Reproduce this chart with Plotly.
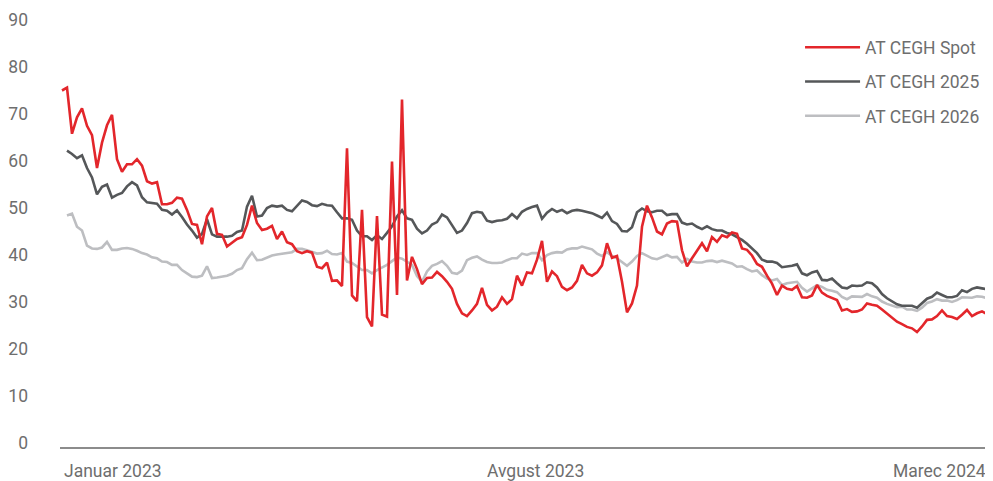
import pandas as pd
import plotly.graph_objects as go

series_names = ["AT CEGH Spot", "AT CEGH 2025", "AT CEGH 2026"]
x_labels = ["Januar 2023", "Avgust 2023", "Marec 2024"]
x_label_dates = ["2023-01-02", "2023-08-11", "2024-03-09"]
first_date, last_date = "2023-01-02", "2024-03-11"
y_ticks = [0, 10, 20, 30, 40, 50, 60, 70, 80, 90]

spot = [
    75.0, 75.6, 65.8, 69.3, 71.2, 67.5, 65.5, 58.5, 63.9, 67.6,
    69.8, 60.4, 57.7, 59.3, 59.3, 60.4, 59.0, 55.7, 55.2, 55.5,
    50.8, 50.8, 51.1, 52.2, 52.0, 49.6, 46.6, 46.4, 42.3, 48.2,
    50.0, 44.5, 44.3, 41.8, 42.6, 43.4, 43.8, 46.4, 50.5, 46.8,
    45.3, 45.6, 46.2, 43.4, 45.0, 42.7, 42.3, 40.8, 40.4, 40.8,
    40.5, 37.5, 37.2, 38.4, 34.5, 34.6, 33.4, 62.7, 31.4, 30.2,
    49.6, 26.8, 24.8, 48.3, 27.3, 26.9, 59.9, 31.5, 73.1, 34.6,
    39.6, 37.0, 33.8, 35.1, 35.2, 36.4, 35.5, 34.3, 32.8, 29.6,
    27.6, 27.0, 28.2, 29.6, 33.0, 29.4, 28.2, 29.0, 31.0, 29.6,
    30.6, 35.6, 33.5, 36.3, 36.1, 39.0, 43.0, 34.3, 36.5, 35.5,
    33.2, 32.5, 33.1, 34.5, 37.9, 36.1, 35.6, 36.3, 37.8, 42.5,
    39.4, 39.8, 34.3, 27.8, 29.7, 33.5, 46.0, 50.5, 48.0, 45.0,
    44.4, 46.7, 47.2, 47.1, 41.0, 37.6, 39.3, 41.0, 42.5, 40.8,
    43.8, 42.8, 44.2, 43.8, 44.8, 44.5, 41.4, 41.1, 39.9, 38.1,
    37.5, 35.6, 33.9, 31.5, 33.5, 32.8, 32.6, 33.4, 31.0, 30.9,
    31.4, 33.6, 32.0, 31.3, 30.9, 30.4, 28.2, 28.5, 27.9, 28.0,
    28.4, 29.7, 29.4, 29.2, 28.4, 27.5, 26.5, 25.8, 25.3, 24.7,
    24.4, 23.6, 24.8, 26.2, 26.3, 27.0, 28.2, 27.0, 26.8, 26.4,
    27.3, 28.3, 27.0, 27.6, 28.0, 27.4, 27.4,
]

cegh_2025 = [
    None, 62.2, 61.5, 60.6, 61.2, 58.5, 56.5, 52.9, 54.5, 55.0,
    52.2, 52.8, 53.2, 54.6, 55.5, 54.8, 52.3, 51.2, 51.0, 50.9,
    49.6, 49.4, 48.6, 49.5, 48.1, 46.5, 45.2, 43.7, 44.5, 47.6,
    44.4, 43.9, 43.9, 43.9, 44.1, 44.9, 45.2, 50.3, 52.6, 48.2,
    48.4, 50.0, 50.5, 50.3, 50.5, 49.6, 49.3, 50.4, 51.6, 51.3,
    50.6, 50.4, 50.9, 50.6, 50.5, 49.1, 47.8, 47.8, 47.5, 45.2,
    44.0, 44.0, 43.2, 44.2, 43.4, 44.7, 46.1, 48.2, 49.5, 47.8,
    47.5, 45.6, 44.6, 45.2, 46.5, 47.0, 48.6, 48.0, 46.3, 44.7,
    45.2, 46.8, 48.9, 49.2, 49.0, 47.3, 47.0, 47.3, 47.4, 47.7,
    48.7, 47.8, 49.2, 49.8, 50.2, 50.5, 47.7, 49.0, 49.8, 49.2,
    49.6, 48.9, 49.4, 49.6, 49.4, 49.2, 48.9, 48.4, 47.9, 49.0,
    47.2, 46.6, 45.1, 45.0, 45.9, 49.1, 49.9, 49.3, 49.1, 49.4,
    49.4, 48.5, 48.7, 48.7, 46.9, 46.5, 46.7, 46.0, 45.5, 46.1,
    45.5, 45.2, 45.2, 44.7, 44.4, 43.8, 43.2, 42.4, 41.4, 40.4,
    39.0, 38.6, 38.6, 38.3, 37.4, 37.5, 37.7, 38.0, 36.1, 35.7,
    36.3, 36.6, 34.7, 34.6, 35.0, 34.0, 33.1, 32.9, 33.5, 33.4,
    33.5, 34.2, 34.0, 33.1, 31.7, 30.8, 30.1, 29.5, 29.2, 29.2,
    29.2, 28.8, 29.8, 30.7, 31.1, 32.0, 31.5, 31.0, 31.0, 31.3,
    32.5, 32.1, 32.8, 33.1, 32.9, 32.7, 32.2,
]

cegh_2026 = [
    None, 48.4, 48.8, 46.0, 45.2, 42.0, 41.4, 41.3, 41.6, 42.8,
    41.1, 41.1, 41.4, 41.5, 41.3, 40.9, 40.4, 40.1, 39.5, 39.3,
    38.6, 38.5, 37.9, 37.9, 36.8, 36.1, 35.4, 35.3, 35.6, 37.6,
    35.1, 35.2, 35.4, 35.6, 36.0, 36.8, 37.2, 39.1, 40.5, 38.9,
    39.0, 39.4, 39.9, 40.1, 40.3, 40.5, 40.6, 41.3, 41.3, 41.0,
    40.6, 40.3, 40.4, 40.9, 40.2, 40.1, 40.4, 38.6, 38.3, 37.5,
    36.8, 36.8, 36.1, 36.8, 37.3, 37.9, 38.7, 39.5, 39.2, 38.5,
    37.9, 35.5, 34.3, 36.5, 37.7, 38.1, 38.7, 37.7, 36.2, 36.0,
    36.7, 38.9, 39.4, 39.7, 39.0, 38.5, 38.3, 38.3, 38.4, 38.9,
    39.3, 39.3, 40.3, 40.0, 40.4, 40.4, 38.9, 40.0, 40.4, 40.6,
    40.5, 41.2, 41.4, 41.4, 41.8, 41.5, 41.2, 40.3, 39.8, 40.6,
    39.8, 39.3, 38.5, 37.7, 38.6, 39.8, 40.4, 39.8, 39.3, 39.1,
    39.6, 40.0, 39.5, 39.6, 38.4, 39.2, 38.6, 38.4, 38.4, 38.7,
    38.8, 38.5, 38.8, 38.5, 38.2, 37.5, 37.6, 37.0, 36.5, 36.7,
    35.7, 35.0, 34.6, 34.9, 33.6, 34.0, 34.2, 34.3, 33.0, 32.2,
    32.9, 33.6, 33.2, 32.6, 32.4, 32.1, 31.1, 30.6, 31.2, 31.1,
    31.1, 31.7, 31.2, 30.9, 30.1, 29.6, 29.3, 28.9, 29.0, 28.4,
    28.4, 28.1, 28.8, 29.8, 30.1, 30.6, 30.3, 30.3, 30.0, 30.4,
    31.0, 31.0, 30.9, 31.2, 31.1, 30.8, 30.6,
]

assert len(spot) == len(cegh_2025) == len(cegh_2026)
dates = pd.date_range(first_date, last_date, periods=len(spot))

FONT = "Roboto"
TXT = "#6e6e6e"
FS = 17.5

fig = go.Figure()
styles = [("#e3262b", 2.6), ("#555759", 2.6), ("#bdbec1", 2.6)]
order = [2, 1, 0]
data = [spot, cegh_2025, cegh_2026]
for i in order:
    fig.add_trace(go.Scatter(
        x=dates, y=data[i], mode="lines", name=series_names[i],
        line=dict(color=styles[i][0], width=styles[i][1]),
        legendgroup=series_names[i], legendrank=i + 1,
        connectgaps=False, hoverinfo="skip",
    ))

step = dates[1] - dates[0]
fig.update_xaxes(
    range=[dates[0] - step * 0.4, dates[-1] + step * 0.2],
    showgrid=False, zeroline=False, showticklabels=False, ticks="",
    showline=True, linecolor="#8c8c8c", linewidth=1.5,
)
fig.update_yaxes(
    range=[-0.85, 90], tickvals=y_ticks, showgrid=False, zeroline=False,
    showline=False, ticks="", ticklabelstandoff=31,
    tickfont=dict(family=FONT, size=FS, color=TXT),
)

anchors = ["left", "center", "right"]
for lab, d, a in zip(x_labels, x_label_dates, anchors):
    fig.add_annotation(
        x=d, y=0, xref="x", yref="paper", text=lab, showarrow=False,
        xanchor=a, yanchor="middle", yshift=-24,
        font=dict(family=FONT, size=FS, color=TXT),
    )

# the page body has an 8px margin, so the figure is sized to fit inside it
fig.update_layout(
    width=985, height=473,
    margin=dict(l=52, r=0, t=12, b=34),
    paper_bgcolor="white", plot_bgcolor="white",
    showlegend=True,
    legend=dict(
        x=0.7932, y=0.978, xanchor="left", yanchor="top",
        font=dict(family=FONT, size=FS, color=TXT),
        itemwidth=55, tracegroupgap=8.5, bgcolor="rgba(0,0,0,0)",
    ),
)

fig.write_html("out.html")
